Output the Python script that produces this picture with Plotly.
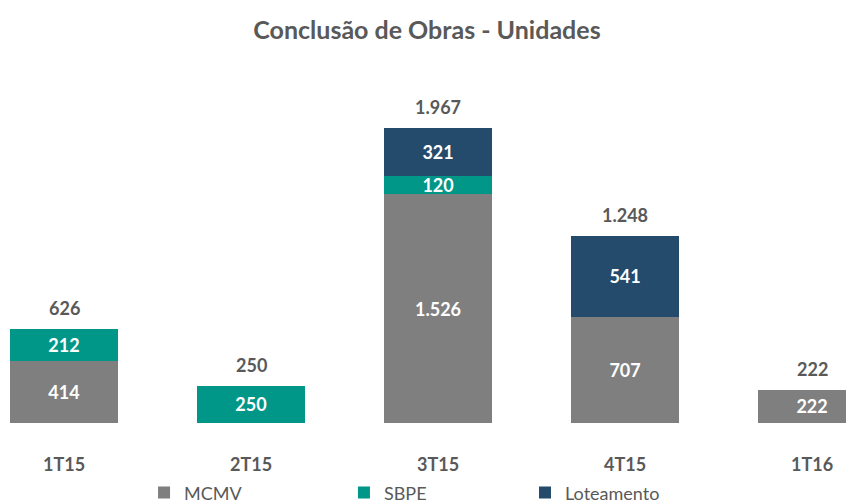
import plotly.graph_objects as go

categories = ["1T15", "2T15", "3T15", "4T15", "1T16"]
mcmv = [414, None, 1526, 707, 222]
sbpe = [212, 250, 120, None, None]
loteamento = [None, None, 321, 541, None]
totals = [626, 250, 1967, 1248, 222]

series = [
    ("MCMV", mcmv, "#7F7F7F", "legend", 0.1593),
    ("SBPE", sbpe, "#009688", "legend2", 0.3934),
    ("Loteamento", loteamento, "#254B6C", "legend3", 0.6054),
]

FONT = "Lato"
TXT = "#595959"

fig = go.Figure()
legends = {}
for name, vals, color, leg, lx in series:
    fig.add_trace(go.Bar(
        name=name, x=categories, y=vals, legend=leg,
        marker=dict(color=color, line=dict(width=0)),
        texttemplate="%{y:,}", textposition="inside",
        insidetextanchor="middle", constraintext="none",
        textfont=dict(family=FONT, size=18, color="white", weight="bold"),
        width=0.578,
    ))
    legends[leg] = dict(orientation="h", x=lx, xanchor="left", y=-0.194, yanchor="middle",
                        bgcolor="rgba(0,0,0,0)",
                        font=dict(family=FONT, size=18, color=TXT))

for c, t in zip(categories, totals):
    fig.add_annotation(x=c, y=t, text=f"{t:,}".replace(",", "."), showarrow=False,
                       yanchor="bottom", yshift=8,
                       font=dict(family=FONT, size=18, color=TXT, weight="bold"))

fig.update_layout(
    barmode="stack",
    width=854, height=504,
    margin=dict(l=0, r=0, t=55, b=89, autoexpand=False),
    paper_bgcolor="white", plot_bgcolor="white",
    separators=",.",
    uniformtext=dict(minsize=18, mode="show"),
    title=dict(text="<b>Conclusão de Obras - Unidades</b>", x=0.4906, xanchor="center",
               y=1 - 22 / 504, yanchor="middle",
               font=dict(family=FONT, size=25, color=TXT)),
    xaxis=dict(range=[-0.2995, 4.267], showgrid=False, showline=False, zeroline=False,
               ticks="", ticklabelstandoff=29, automargin=False,
               tickfont=dict(family=FONT, size=18, color=TXT, weight="bold")),
    yaxis=dict(range=[0, 2400], visible=False, automargin=False),
    showlegend=True,
    **legends,
)

fig.write_html("out.html")
